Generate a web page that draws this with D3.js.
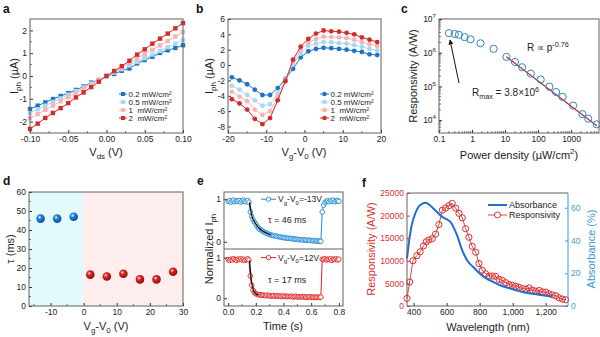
<!DOCTYPE html>
<html><head><meta charset="utf-8">
<script src="https://cdn.jsdelivr.net/npm/d3@7"></script>
<style>body{margin:0;background:#fff}svg{display:block}text{white-space:pre}</style>
</head><body>
<svg id="c" width="600" height="337"></svg>
<script>
// ---------- DATA ----------
// panel a
const aVds = [-0.10,-0.09,-0.08,-0.07,-0.06,-0.05,-0.04,-0.03,-0.02,-0.01,0,0.01,0.02,0.03,0.04,0.05,0.06,0.07,0.08,0.09,0.10];
const aI02 = [-1.45,-1.30,-1.16,-1.01,-0.88,-0.75,-0.61,-0.46,-0.29,-0.17,0,0.09,0.23,0.33,0.55,0.70,0.84,1.01,1.13,1.23,1.35];
const aI05 = [-1.62,-1.46,-1.30,-1.14,-0.98,-0.82,-0.66,-0.50,-0.33,-0.17,0,0.15,0.30,0.46,0.62,0.78,0.94,1.10,1.26,1.42,1.58];
const aI1  = [-1.85,-1.67,-1.48,-1.30,-1.11,-0.93,-0.74,-0.56,-0.37,-0.19,0,0.19,0.38,0.57,0.77,0.96,1.15,1.34,1.53,1.73,1.93];
const aI2  = [-2.32,-2.09,-1.84,-1.62,-1.41,-1.19,-0.94,-0.72,-0.49,-0.25,0,0.22,0.43,0.67,0.94,1.17,1.42,1.64,1.86,2.09,2.32];
const aXTicks = [-0.10,-0.05,0.00,0.05,0.10];
const aYTicks = [-2,-1,0,1,2];
const powerLabels = ["0.2 mW/cm²","0.5 mW/cm²","1  mW/cm²","2  mW/cm²"];
// panel b
const bVg = [-19,-17,-15,-13,-11,-9,-7,-5,-3,-1,1,3,5,7,9,11,13,15,17,19];
const bI02 = [-1.6,-2.0,-2.5,-3.2,-3.9,-3.9,-3.0,-1.8,-0.5,1.0,1.8,2.1,2.25,2.2,2.1,2.0,1.85,1.7,1.4,1.3];
const bI05 = [-2.7,-3.2,-3.9,-4.6,-5.3,-5.1,-3.7,-1.9,0.1,1.5,2.5,2.8,3.0,2.95,2.85,2.8,2.6,2.4,2.1,1.9];
const bI1  = [-3.5,-4.1,-4.7,-5.8,-6.5,-6.0,-4.2,-2.0,0.4,2.0,2.9,3.4,3.7,3.65,3.6,3.5,3.3,3.0,2.7,2.5];
const bI2  = [-4.45,-5.0,-5.8,-7.0,-7.7,-6.9,-4.6,-2.1,0.7,2.4,3.4,4.1,4.5,4.4,4.35,4.2,4.0,3.6,3.3,3.0];
const bXTicks = [-20,-10,0,10,20];
const bYTicks = [-8,-6,-4,-2,0,2,4,6];
// panel c
const cP = [0.2,0.3,0.4,0.6,0.9,1.8,4.5,11,20,33,60,120,220,350,550,1150,2200,3300,6000];
const cR = [3.8e6,3.6e6,3.4e6,2.9e6,2.5e6,1.9e6,1.3e6,7.5e5,5.3e5,3.7e5,2.4e5,1.6e5,9.8e4,6.8e4,4.9e4,2.7e4,1.5e4,1.1e4,7.5e3];
const cFitP = [11,6000];
const cFitR = [7.6e5,6.8e3];
const cXTicks = [0.1,1,10,100,1000];
const cYExp = [4,5,6,7];
// panel d
const dVgBlue = [-13,-8,-3];
const dTauBlue = [46,46,47];
const dVgRed = [2,7,12,17,22,27];
const dTauRed = [16.5,15.5,17,14,14,18];
const dXTicks = [-10,0,10,20,30];
const dYTicks = [0,10,20,30,40,50,60];
// panel e
const eT = [0.00,0.01,0.02,0.03,0.04,0.05,0.06,0.07,0.08,0.09,0.10,0.11,0.12,0.13,0.14,0.15,0.16,0.17,0.18,0.19,0.20,0.21,0.22,0.23,0.24,0.25,0.26,0.27,0.28,0.29,0.30,0.31,0.32,0.33,0.34,0.35,0.36,0.37,0.38,0.39,0.40,0.41,0.42,0.43,0.44,0.45,0.46,0.47,0.48,0.49,0.50,0.51,0.52,0.53,0.54,0.55,0.56,0.57,0.58,0.59,0.60,0.61,0.62,0.63,0.64,0.65,0.66,0.67,0.68,0.69,0.70,0.71,0.72,0.73,0.74,0.75,0.76,0.77,0.78,0.79,0.80];
const eBlue = [0.95,0.97,0.93,0.96,0.98,0.94,0.96,0.95,0.97,0.93,0.96,0.98,0.95,0.94,0.97,0.93,
 0.70,0.60,0.52,0.46,0.41,0.36,0.32,0.29,0.27,0.25,
 0.23,0.21,0.20,0.18,0.17,0.16,0.15,0.14,0.14,0.13,
 0.12,0.12,0.11,0.10,0.10,0.09,0.09,0.08,0.08,0.08,
 0.07,0.07,0.06,0.06,0.06,0.05,0.05,0.05,0.04,0.05,
 0.04,0.03,0.04,0.03,0.03,0.02,0.03,0.02,0.02,0.01,
 0.02,0.01,0.70,0.86,0.92,0.95,0.96,0.94,0.97,0.95,
 0.98,0.94,0.96,0.97,0.95];
const eRed = [0.95,0.93,0.96,0.94,0.97,0.95,0.93,0.96,0.95,0.97,0.94,0.96,0.93,0.95,0.97,0.94,
 0.55,0.32,0.20,0.14,0.11,0.10,0.08,0.09,0.07,0.08,
 0.07,0.06,0.08,0.06,0.07,0.05,0.06,0.07,0.05,0.06,
 0.05,0.06,0.04,0.05,0.06,0.04,0.05,0.04,0.05,0.04,
 0.05,0.03,0.04,0.05,0.03,0.04,0.03,0.04,0.03,0.04,
 0.03,0.02,0.03,0.04,0.02,0.03,0.02,0.03,0.02,0.03,
 0.02,0.03,0.96,0.95,0.97,0.94,0.96,0.95,0.97,0.93,
 0.96,0.95,0.97,0.94,0.96];
const eFitTopT = [0.155,0.17,0.19,0.21,0.23,0.25,0.28,0.31];
const eFitTopV = [0.93,0.62,0.47,0.37,0.30,0.25,0.20,0.16];
const eFitBotT = [0.155,0.165,0.175,0.185,0.20,0.22];
const eFitBotV = [0.93,0.50,0.30,0.18,0.11,0.08];
const eXTicks = [0.0,0.2,0.4,0.6,0.8];
// panel f
const fLamR = [360,376,396,420,440,460,476,493,513,533,553,574,594,614,634,655,675,695,715,735,755,776,796,816,836,857,877,897,917,937,958,978,998,1018,1038,1059,1079,1099,1119,1139,1160,1180,1200,1220,1240,1261,1281,1301,1321];
const fResp = [1680,5300,10000,11150,12000,13300,14200,14600,14900,15900,18000,21200,21700,22200,22700,21650,20500,19500,17100,15200,13200,11900,9400,7900,7140,6630,6630,6560,5900,5700,5170,4740,4590,4370,4150,3860,3720,4000,3500,3280,3430,3130,3060,2700,2480,2260,1820,1530,1380];
const fLamA = [360,376,390,410,430,456,470,490,520,550,580,610,630,650,670,690,710,730,760,800,840,880,920,960,1000,1040,1080,1120,1160,1200,1240];
const fAbs = [29,42,50,56.5,60.6,62.6,63,62.2,59.5,56.5,54,52.4,50.4,46.3,41.3,35.2,30.5,27,24,19.9,16.9,14.8,12.8,11.4,10.2,9.1,8.1,7.5,6.9,6.3,5.8];
const fXTicks = [400,600,800,1000,1200];
const fXLabels = ["400","600","800","1,000","1,200"];
const fYTicks = [0,5000,10000,15000,20000,25000];
const fY2Ticks = [0,20,40,60];

// ---------- STYLE ----------
const FONT = "'Liberation Sans', Arial, sans-serif";
const C_BLUE = "#1f74c8", C_LBLUE = "#a9d9f2", C_PINK = "#f6b5b5", C_RED = "#d42a2a";
const powColors = [C_BLUE, C_LBLUE, C_PINK, C_RED];
const FRAME = "#606060";
const TICKF = 8.5, TITLEF = 11;

const svg = d3.select("#c").attr("font-family", FONT);

function rich(sel, parts, fs) {
  let shift = 0;
  parts.forEach(p => {
    const target = p.sub ? 0.3 : p.sup ? -0.45 : 0;
    const ts = sel.append("tspan").text(p.t);
    if (target !== shift) ts.attr("dy", ((target - shift) * fs).toFixed(2));
    if (p.sub || p.sup) ts.attr("font-size", fs * 0.72);
    shift = target;
  });
}
function title(x, y, rot, parts, fs, color) {
  const t = svg.append("text").attr("transform", `translate(${x},${y}) rotate(${rot})`)
    .attr("text-anchor", "middle").attr("font-size", fs).attr("fill", color || "#222");
  rich(t, parts, fs);
  return t;
}
function letter(x, y, s) {
  svg.append("text").attr("x", x).attr("y", y).attr("font-size", 12).attr("font-weight", "bold").attr("fill", "#111").text(s);
}
function styleAxis(g, color) {
  g.select(".domain").remove();
  g.attr("font-family", FONT).attr("font-size", TICKF).attr("color", color || "#333");
  g.selectAll(".tick text").attr("fill", color || "#222");
}
function axB(scale, y, ticks, fmt, color) {
  const g = svg.append("g").attr("transform", `translate(0,${y})`)
    .call(d3.axisBottom(scale).tickValues(ticks).tickFormat(fmt).tickSize(-3).tickPadding(3));
  styleAxis(g, color); return g;
}
function axL(scale, x, ticks, fmt, color) {
  const g = svg.append("g").attr("transform", `translate(${x},0)`)
    .call(d3.axisLeft(scale).tickValues(ticks).tickFormat(fmt).tickSize(-3).tickPadding(3));
  styleAxis(g, color); return g;
}
function axR(scale, x, ticks, fmt, color) {
  const g = svg.append("g").attr("transform", `translate(${x},0)`)
    .call(d3.axisRight(scale).tickValues(ticks).tickFormat(fmt).tickSize(-3).tickPadding(3));
  styleAxis(g, color); return g;
}
function minorB(scale, y, vals) {
  svg.append("g").selectAll("line").data(vals).join("line")
    .attr("x1", d => scale(d)).attr("x2", d => scale(d)).attr("y1", y).attr("y2", y - 1.8)
    .attr("stroke", "#333").attr("stroke-width", 0.8);
}
function minorL(scale, x, vals) {
  svg.append("g").selectAll("line").data(vals).join("line")
    .attr("y1", d => scale(d)).attr("y2", d => scale(d)).attr("x1", x).attr("x2", x + 1.8)
    .attr("stroke", "#333").attr("stroke-width", 0.8);
}
function frame(x0, y0, x1, y1) {
  svg.append("rect").attr("x", x0).attr("y", y0).attr("width", x1 - x0).attr("height", y1 - y0)
    .attr("fill", "none").attr("stroke", FRAME).attr("stroke-width", 1);
}
const V_gV0 = [{t:"V"},{t:"g",sub:true},{t:"-V"},{t:"0",sub:true},{t:" (V)"}];

// ---------- PANEL A ----------
{
  const x0=30,x1=183,y0=19,y1=133;
  const x = d3.scaleLinear().domain([-0.10,0.10]).range([x0,x1]);
  const y = d3.scaleLinear().domain([-2.5,2.5]).range([y1,y0]);
  const series = [aI02,aI05,aI1,aI2];
  const line = d3.line().x((d,i)=>x(aVds[i])).y(d=>y(d));
  series.forEach((s,k)=>{
    svg.append("path").attr("d", line(s)).attr("fill","none").attr("stroke",powColors[k]).attr("stroke-width",1);
    svg.append("g").selectAll("rect").data(s).join("rect")
      .attr("x",(d,i)=>x(aVds[i])-2.2).attr("y",d=>y(d)-2.2).attr("width",4.4).attr("height",4.4)
      .attr("fill",powColors[k]);
  });
  axB(x, y1, aXTicks, d=>d.toFixed(2));
  axL(y, x0, aYTicks, d=>String(d));
  minorB(x, y1, [-0.075,-0.025,0.025,0.075]);
  minorL(y, x0, [-1.5,-0.5,0.5,1.5]);
  frame(x0,y0,x1,y1);
  // legend
  powerLabels.forEach((lab,k)=>{
    const yy = 94 + k*8;
    svg.append("line").attr("x1",119).attr("x2",127).attr("y1",yy).attr("y2",yy).attr("stroke",powColors[k]).attr("stroke-width",1);
    svg.append("rect").attr("x",121).attr("y",yy-2).attr("width",4).attr("height",4).attr("fill",powColors[k]);
    svg.append("text").attr("x",128.5).attr("y",yy+2.8).attr("font-size",8).attr("fill","#222").text(lab);
  });
  title(18, 76, -90, [{t:"I"},{t:"ph",sub:true},{t:" (µA)"}], TITLEF);
  title(106, 156, 0, [{t:"V"},{t:"ds",sub:true},{t:" (V)"}], TITLEF);
  letter(3, 13, "a");
}
// ---------- PANEL B ----------
{
  const x0=228,x1=381,y0=19,y1=133;
  const x = d3.scaleLinear().domain([-20,20]).range([x0,x1]);
  const y = d3.scaleLinear().domain([-8.85,6]).range([y1,y0]);
  const series = [bI02,bI05,bI1,bI2];
  const line = d3.line().x((d,i)=>x(bVg[i])).y(d=>y(d));
  series.forEach((s,k)=>{
    svg.append("path").attr("d", line(s)).attr("fill","none").attr("stroke",powColors[k]).attr("stroke-width",1);
    svg.append("g").selectAll("circle").data(s).join("circle")
      .attr("cx",(d,i)=>x(bVg[i])).attr("cy",d=>y(d)).attr("r",2.4).attr("fill",powColors[k]);
  });
  axB(x, y1, bXTicks, d=>String(d));
  axL(y, x0, bYTicks, d=>String(d));
  minorB(x, y1, [-15,-5,5,15]);
  frame(x0,y0,x1,y1);
  powerLabels.forEach((lab,k)=>{
    const yy = 94 + k*8;
    svg.append("line").attr("x1",320).attr("x2",329).attr("y1",yy).attr("y2",yy).attr("stroke",powColors[k]).attr("stroke-width",1);
    svg.append("circle").attr("cx",324.5).attr("cy",yy).attr("r",2.3).attr("fill",powColors[k]);
    svg.append("text").attr("x",330.5).attr("y",yy+2.8).attr("font-size",8).attr("fill","#222").text(lab);
  });
  title(213, 76, -90, [{t:"I"},{t:"ph",sub:true},{t:" (µA)"}], TITLEF);
  title(304, 156, 0, V_gV0, TITLEF);
  letter(196, 13, "b");
}
// ---------- PANEL C ----------
{
  const x0=439,x1=599,y0=19,y1=133;
  const x = d3.scaleLog().domain([0.1,7000]).range([x0,x1]);
  const y = d3.scaleLog().domain([4140,1e7]).range([y1,y0]);
  svg.append("path").attr("d", d3.line()(cFitP.map((p,i)=>[x(p),y(cFitR[i])])))
    .attr("stroke","#c8202a").attr("stroke-width",1.2).attr("fill","none");
  svg.append("g").selectAll("circle").data(cR).join("circle")
    .attr("cx",(d,i)=>x(cP[i])).attr("cy",d=>y(d)).attr("r",3.6)
    .attr("fill","none").attr("stroke","#2f86c4").attr("stroke-width",1);
  axB(x, y1, cXTicks, d=>String(d));
  const gy = axL(y, x0, cYExp.map(e=>Math.pow(10,e)), d=>"");
  gy.selectAll(".tick text").each(function(d){
    const t = d3.select(this); t.text(null);
    rich(t, [{t:"10"},{t:String(Math.round(Math.log10(d))),sup:true}], TICKF);
  });
  const minors = [];
  [3,4,5,6].forEach(e=>[2,3,4,5,6,7,8,9].forEach(m=>{const v=m*Math.pow(10,e); if(v>4140&&v<1e7) minors.push(v);}));
  minorL(y, x0, minors);
  const mx = [];
  [-1,0,1,2,3].forEach(e=>[2,3,4,5,6,7,8,9].forEach(m=>{const v=m*Math.pow(10,e); if(v<7000) mx.push(v);}));
  minorB(x, y1, mx);
  frame(x0,y0,x1,y1);
  // annotations
  const t1 = svg.append("text").attr("x",527).attr("y",51).attr("font-size",10).attr("fill","#222");
  rich(t1, [{t:"R ∝ p"},{t:"-0.76",sup:true}], 10);
  const t2 = svg.append("text").attr("x",472).attr("y",96).attr("font-size",10).attr("fill","#222");
  rich(t2, [{t:"R"},{t:"max",sub:true},{t:" = 3.8×10"},{t:"6",sup:true}], 10);
  svg.append("defs").append("marker").attr("id","arr").attr("viewBox","0 0 10 10").attr("refX",9).attr("refY",5)
    .attr("markerWidth",5).attr("markerHeight",5).attr("orient","auto")
    .append("path").attr("d","M0,0L10,5L0,10z").attr("fill","#111");
  svg.append("line").attr("x1",459).attr("y1",83).attr("x2",450).attr("y2",40)
    .attr("stroke","#111").attr("stroke-width",1).attr("marker-end","url(#arr)");
  title(417, 76, -90, [{t:"Responsivity (A/W)"}], TITLEF);
  title(519, 159, 0, [{t:"Power density (µW/cm"},{t:"2",sup:true},{t:")"}], TITLEF);
  letter(401, 13, "c");
}
// ---------- PANEL D ----------
{
  const x0=29,x1=183,y0=192,y1=306;
  const x = d3.scaleLinear().domain([-16.5,30]).range([x0,x1]);
  const y = d3.scaleLinear().domain([0,60]).range([y1,y0]);
  svg.append("rect").attr("x",x0).attr("y",y0).attr("width",x(0)-x0).attr("height",y1-y0).attr("fill","#e3fafd");
  svg.append("rect").attr("x",x(0)).attr("y",y0).attr("width",x1-x(0)).attr("height",y1-y0).attr("fill","#fdeded");
  const defs = svg.append("defs");
  const mk = (id, c0, c1, c2) => {
    const g = defs.append("radialGradient").attr("id",id).attr("cx","38%").attr("cy","35%").attr("r","65%");
    g.append("stop").attr("offset","0%").attr("stop-color",c0);
    g.append("stop").attr("offset","35%").attr("stop-color",c1);
    g.append("stop").attr("offset","100%").attr("stop-color",c2);
  };
  mk("gb","#e6f4ff","#1d86dc","#0a4f98");
  mk("gr","#ffe0e0","#e42222","#8e0d0d");
  svg.append("g").selectAll("circle").data(dTauBlue).join("circle")
    .attr("cx",(d,i)=>x(dVgBlue[i])).attr("cy",d=>y(d)).attr("r",4.3).attr("fill","url(#gb)");
  svg.append("g").selectAll("circle").data(dTauRed).join("circle")
    .attr("cx",(d,i)=>x(dVgRed[i])).attr("cy",d=>y(d)).attr("r",4.3).attr("fill","url(#gr)");
  axB(x, y1, dXTicks, d=>String(d));
  axL(y, x0, dYTicks, d=>String(d));
  minorB(x, y1, [-15,-5,5,15,25]);
  minorL(y, x0, [5,15,25,35,45,55]);
  frame(x0,y0,x1,y1);
  title(14, 249, -90, [{t:"τ (ms)"}], TITLEF);
  title(106, 330, 0, V_gV0, TITLEF);
  letter(3, 185, "d");
}
// ---------- PANEL E ----------
{
  const x0=224,x1=343,y0=192,ym=249,y1=306;
  const x = d3.scaleLinear().domain([-0.03,0.83]).range([x0,x1]);
  const yT = d3.scaleLinear().domain([-0.17,1.17]).range([ym,y0]);
  const yB = d3.scaleLinear().domain([-0.19,1.21]).range([y1,ym]);
  const drawSeries = (vals, ys, color) => {
    svg.append("path").attr("d", d3.line().x((d,i)=>x(eT[i])).y(d=>ys(d))(vals))
      .attr("fill","none").attr("stroke",color).attr("stroke-width",1);
    svg.append("g").selectAll("circle").data(vals).join("circle")
      .attr("cx",(d,i)=>x(eT[i])).attr("cy",d=>ys(d)).attr("r",2.3)
      .attr("fill","#fff").attr("stroke",color).attr("stroke-width",0.9);
  };
  drawSeries(eBlue, yT, "#1f8ad6");
  drawSeries(eRed, yB, "#e01f1f");
  svg.append("path").attr("d", d3.line().x((d,i)=>x(eFitTopT[i])).y(d=>yT(d)).curve(d3.curveMonotoneX)(eFitTopV))
    .attr("fill","none").attr("stroke","#111").attr("stroke-width",1.3);
  svg.append("path").attr("d", d3.line().x((d,i)=>x(eFitBotT[i])).y(d=>yB(d)).curve(d3.curveMonotoneX)(eFitBotV))
    .attr("fill","none").attr("stroke","#111").attr("stroke-width",1.3);
  axB(x, y1, eXTicks, d=>d.toFixed(1));
  axL(yT, x0, [0,1], d=>String(d));
  axL(yB, x0, [0,1], d=>String(d));
  minorB(x, y1, [0.1,0.3,0.5,0.7]);
  frame(x0,y0,x1,y1);
  svg.append("line").attr("x1",x0).attr("x2",x1).attr("y1",ym).attr("y2",ym).attr("stroke",FRAME).attr("stroke-width",1);
  // legends
  [[yT(1), "#1f8ad6", "=-13V"], [yB(1), "#e01f1f", "=12V"]].forEach(([yy,c,suf])=>{
    svg.append("line").attr("x1",261).attr("x2",276).attr("y1",yy).attr("y2",yy).attr("stroke",c).attr("stroke-width",1);
    svg.append("circle").attr("cx",268.5).attr("cy",yy).attr("r",2.2).attr("fill","#fff").attr("stroke",c).attr("stroke-width",0.9);
    const t = svg.append("text").attr("x",278).attr("y",yy+3).attr("font-size",8.5).attr("fill","#222");
    rich(t, [{t:"V"},{t:"g",sub:true},{t:"-V"},{t:"0",sub:true},{t:suf}], 8.5);
  });
  svg.append("text").attr("x",268).attr("y",223).attr("font-size",9).attr("fill","#222").text("τ = 46 ms");
  svg.append("text").attr("x",268).attr("y",283).attr("font-size",9).attr("fill","#222").text("τ = 17 ms");
  title(213, 249, -90, [{t:"Normalized I"},{t:"ph",sub:true}], TITLEF);
  title(283, 330, 0, [{t:"Time (s)"}], TITLEF);
  letter(197, 185, "e");
}
// ---------- PANEL F ----------
{
  const x0=407,x1=568,y0=193,y1=306;
  const x = d3.scaleLinear().domain([360,1335]).range([x0,x1]);
  const y = d3.scaleLinear().domain([0,25000]).range([y1,y0]);
  const y2 = d3.scaleLinear().domain([0,69]).range([y1,y0]);
  const CR = "#d93030", CB = "#3b9ad9", CA = "#1e6fd0";
  svg.append("path").attr("d", d3.line().x((d,i)=>x(fLamR[i])).y(d=>y(d))(fResp))
    .attr("fill","none").attr("stroke",CR).attr("stroke-width",0.9);
  svg.append("g").selectAll("circle").data(fResp).join("circle")
    .attr("cx",(d,i)=>x(fLamR[i])).attr("cy",d=>y(d)).attr("r",3.1)
    .attr("fill","none").attr("stroke",CR).attr("stroke-width",1);
  svg.append("path").attr("d", d3.line().x((d,i)=>x(fLamA[i])).y(d=>y2(d)).curve(d3.curveMonotoneX)(fAbs))
    .attr("fill","none").attr("stroke",CA).attr("stroke-width",2);
  axB(x, y1, fXTicks, (d,i)=>fXLabels[i]);
  axL(y, x0, fYTicks, d=>String(d), CR);
  axR(y2, x1, fY2Ticks, d=>String(d), CB);
  svg.append("line").attr("x1",x0).attr("x2",x1).attr("y1",y0).attr("y2",y0).attr("stroke",FRAME);
  svg.append("line").attr("x1",x0).attr("x2",x1).attr("y1",y1).attr("y2",y1).attr("stroke",FRAME);
  svg.append("line").attr("x1",x0).attr("x2",x0).attr("y1",y0).attr("y2",y1).attr("stroke",FRAME);
  svg.append("line").attr("x1",x1).attr("x2",x1).attr("y1",y0).attr("y2",y1).attr("stroke",CB);
  // legend
  svg.append("line").attr("x1",488).attr("x2",507).attr("y1",205).attr("y2",205).attr("stroke",CA).attr("stroke-width",2);
  svg.append("text").attr("x",509).attr("y",208).attr("font-size",9).attr("fill","#222").text("Absorbance");
  svg.append("line").attr("x1",488).attr("x2",507).attr("y1",215).attr("y2",215).attr("stroke",CR).attr("stroke-width",0.9);
  svg.append("circle").attr("cx",497.5).attr("cy",215).attr("r",3).attr("fill","#fff").attr("stroke",CR).attr("stroke-width",1);
  svg.append("text").attr("x",509).attr("y",218).attr("font-size",9).attr("fill","#222").text("Responsivity");
  title(375, 249, -90, [{t:"Responsivity (A/W)"}], TITLEF, CR);
  title(595, 249, -90, [{t:"Absorbance (%)"}], TITLEF, CB);
  title(488, 331, 0, [{t:"Wavelength (nm)"}], TITLEF);
  letter(362, 187, "f");
}
</script>
</body></html>
